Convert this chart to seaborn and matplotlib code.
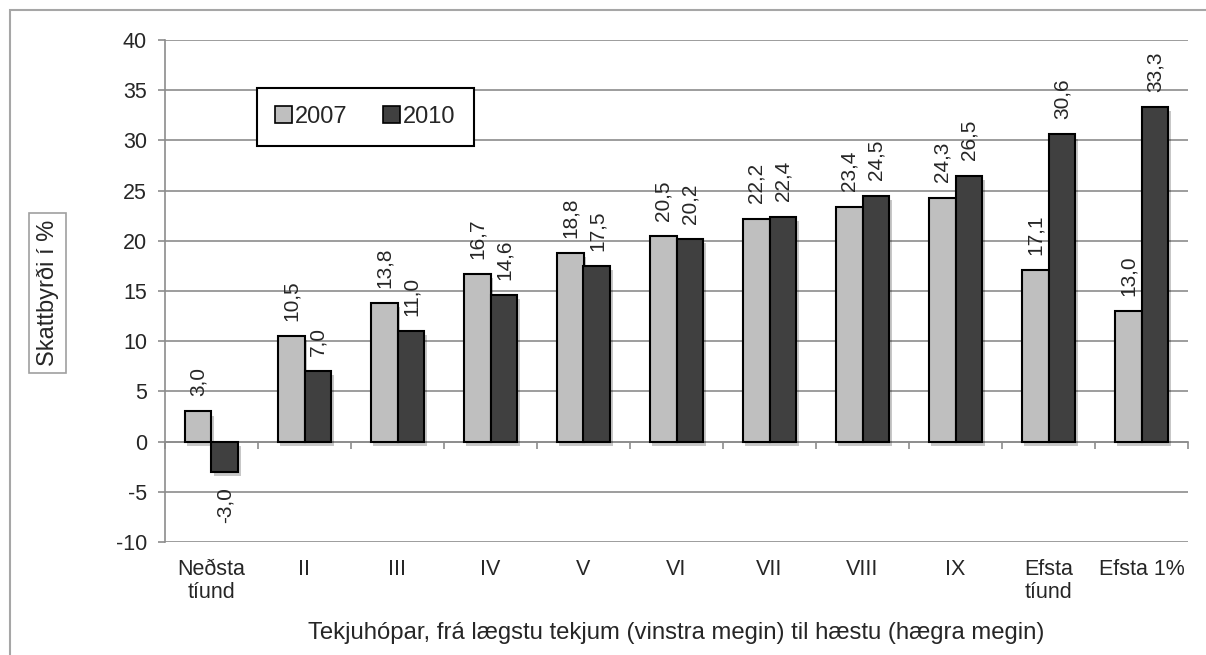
import pandas as pd
import matplotlib
matplotlib.use('Agg')
import matplotlib.pyplot as plt
import matplotlib.patheffects as pe
from matplotlib.patches import Rectangle
import seaborn as sns

# ── Data ─────────────────────────────────────────────────────────────────────
groups = ['Neðsta\ntíund', 'II', 'III', 'IV', 'V', 'VI', 'VII', 'VIII', 'IX',
          'Efsta\ntíund', 'Efsta 1%']
years = ['2007', '2010']
vals_2007 = [3.0, 10.5, 13.8, 16.7, 18.8, 20.5, 22.2, 23.4, 24.3, 17.1, 13.0]
vals_2010 = [-3.0, 7.0, 11.0, 14.6, 17.5, 20.2, 22.4, 24.5, 26.5, 30.6, 33.3]
y_ticks = [-10, -5, 0, 5, 10, 15, 20, 25, 30, 35, 40]

df = pd.DataFrame({
    'group': groups * 2,
    'year': [years[0]] * len(groups) + [years[1]] * len(groups),
    'value': vals_2007 + vals_2010,
})

light, dark, grid_c = '#bfbfbf', '#404040', '#8c8c8c'

sns.set_theme(style='white')
plt.rcParams['font.family'] = ['Liberation Sans', 'DejaVu Sans']
plt.rcParams['axes.unicode_minus'] = False

fig = plt.figure(figsize=(12.06, 6.55), dpi=100)
ax = fig.add_axes([165 / 1206, 113 / 655, 1023 / 1206, 502 / 655])

sns.barplot(data=df, x='group', y='value', hue='year', hue_order=years,
            palette=[light, dark], saturation=1, width=0.58,
            edgecolor='black', linewidth=1.5, ax=ax, zorder=3)

shadow = [pe.SimplePatchShadow(offset=(2, -3), shadow_rgbFace='black', alpha=0.22),
          pe.Normal()]
for cont in ax.containers:
    for p in cont.patches:
        p.set_path_effects(shadow)
    ax.bar_label(cont, fmt=lambda v: f'{v:.1f}'.replace('.', ','),
                 rotation=90, padding=11, fontsize=15)

# axes styling
ax.set_ylim(y_ticks[0], y_ticks[-1])
ax.set_xlim(-0.5, len(groups) - 0.5)
ax.set_yticks(y_ticks)
ax.grid(axis='y', color=grid_c, linewidth=1.2, zorder=0)
ax.set_axisbelow(True)
for s in ['top', 'right', 'bottom']:
    ax.spines[s].set_visible(False)
ax.spines['left'].set_color(grid_c)
ax.spines['left'].set_linewidth(1.2)
ax.tick_params(axis='y', direction='out', length=5, color=grid_c, width=1.2,
               pad=8, labelsize=15.5, left=True)
ax.tick_params(axis='x', length=0, pad=12, labelsize=15.5)
for lab in ax.get_xticklabels():
    lab.set_linespacing(1.12)
ax.set_ylabel('')

# category axis crossing at zero with boundary ticks
zero_pos = (0 - y_ticks[0]) / (y_ticks[-1] - y_ticks[0])
secax = ax.secondary_xaxis(zero_pos)
secax.set_xticks([i - 0.5 for i in range(len(groups) + 1)], labels=[])
secax.tick_params(direction='out', length=5, color=grid_c, width=1.2)
secax.spines['bottom'].set_color(grid_c)
secax.spines['bottom'].set_linewidth(1.2)

ax.set_xlabel('Tekjuhópar, frá lægstu tekjum (vinstra megin) til hæstu (hægra megin)',
              fontsize=17.2)
ax.xaxis.set_label_coords(0.5, -0.16)

# legend
handles, labels = ax.get_legend_handles_labels()
leg = ax.legend(handles, labels, loc='center', bbox_to_anchor=(0.196, 0.847),
                ncol=2, fontsize=17, frameon=True, fancybox=False,
                handlelength=0.7, handleheight=0.7, handletextpad=0.15,
                columnspacing=1.5, borderpad=0.75)
leg.get_frame().set_edgecolor('black')
leg.get_frame().set_linewidth(1.5)
leg.get_frame().set_alpha(1)
for h in leg.legend_handles:
    h.set_path_effects([])
    h.set_edgecolor('black')
    h.set_linewidth(1.2)

# boxed y label
fig.text(47.5 / 1206, 1 - 293 / 655, 'Skattbyrði í %', rotation=90,
         ha='center', va='center', fontsize=17,
         bbox=dict(boxstyle='square,pad=0.3', fc='white', ec='#a0a0a0', lw=1.2))

# outer chart border
fig.patches.append(Rectangle((10 / 1206, -0.1), 1.2, 1.1 - 10 / 655,
                             transform=fig.transFigure, fill=False,
                             ec='#a6a6a6', lw=1.5))

plt.savefig('out.png', dpi=100)
